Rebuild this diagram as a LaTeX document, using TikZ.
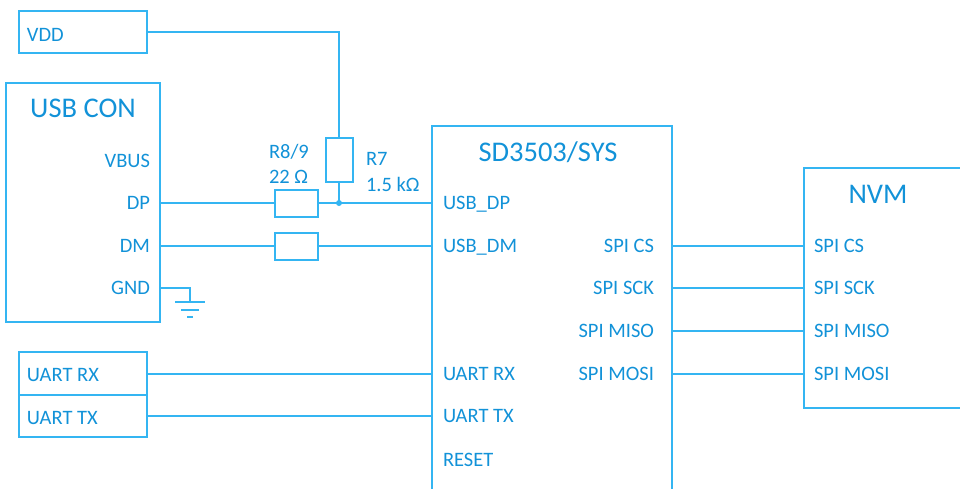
\documentclass[tikz,border=0pt]{standalone}
\usepackage{fontspec}
\setmainfont{Carlito}
\usepackage{tikz}
\usetikzlibrary{positioning}
\definecolor{wire}{RGB}{52,181,242}
\definecolor{lbl}{RGB}{18,146,216}
\newcommand{\pinsize}{\fontsize{20.5}{24}\selectfont}
\newcommand{\titlesize}{\fontsize{28.5}{32}\selectfont}

\begin{document}
\begin{tikzpicture}[x=1pt, y=-1pt, line width=2pt, draw=wire,
    box/.style={draw=wire, rectangle, inner sep=0pt},
    res/.style={draw=wire, rectangle, inner sep=0pt, minimum width=43pt, minimum height=27pt},
    pin/.style={inner sep=0pt, text=lbl, font=\pinsize, text height=13.2pt, text depth=0pt},
    title/.style={inner sep=0pt, text=lbl, font=\titlesize, text height=18.4pt, text depth=0pt}]
    \clip (0,0) rectangle (960,488);
    % blocks
    \node[box, minimum width=128pt, minimum height=42pt] (vdd) at (83,32) {};
    \node[box, minimum width=154pt, minimum height=239pt] (usb) at (83,202.5) {};
    \node[box, minimum width=240pt, minimum height=388pt] (sys) at (552,320) {};
    \node[box, minimum width=171pt, minimum height=240pt] (nvm) at (889.5,288) {};
    \node[box, minimum width=128pt, minimum height=43pt] (rx) at (83,373.5) {};
    \node[box, minimum width=128pt, minimum height=42pt] (tx) at (83,416) {};
    \node[title] (usb-t) at (83,108) {USB CON};
    \node[title] (sys-t) at (548,152) {SD3503/SYS};
    \node[title] (nvm-t) at (878,194) {NVM};
    % labels inside blocks
    \node[pin, anchor=west] (vdd-l) at (26,35) {VDD};
    \node[pin, anchor=west] (rx-l) at (26,375) {UART RX};
    \node[pin, anchor=west] (tx-l) at (26,418) {UART TX};
    \node[pin, anchor=east] (con-vbus) at (151,161) {VBUS};
    \node[pin, anchor=east] (con-dp) at (151,203) {DP};
    \node[pin, anchor=east] (con-dm) at (151,246) {DM};
    \node[pin, anchor=east] (con-gnd) at (151,288) {GND};
    \node[pin, anchor=west] (sys-dp) at (442,203) {USB\_DP};
    \node[pin, anchor=west] (sys-dm) at (442,246) {USB\_DM};
    \node[pin, anchor=west] (sys-rx) at (442,374) {UART RX};
    \node[pin, anchor=west] (sys-tx) at (442,416) {UART TX};
    \node[pin, anchor=west] (sys-rst) at (442,460) {RESET};
    \node[pin, anchor=east] (sys-cs) at (655,246) {SPI CS};
    \node[pin, anchor=east] (sys-sck) at (655,288) {SPI SCK};
    \node[pin, anchor=east] (sys-miso) at (655,331) {SPI MISO};
    \node[pin, anchor=east] (sys-mosi) at (655,374) {SPI MOSI};
    \node[pin, anchor=west] (nvm-cs) at (813,246) {SPI CS};
    \node[pin, anchor=west] (nvm-sck) at (813,288) {SPI SCK};
    \node[pin, anchor=west] (nvm-miso) at (813,331) {SPI MISO};
    \node[pin, anchor=west] (nvm-mosi) at (813,374) {SPI MOSI};
    % resistors
    \node[res] (r8) at (296.5,203) {};
    \node[res] (r9) at (296.5,246) {};
    \node[res, minimum width=27pt, minimum height=44pt] (r7) at (339,160) {};
    \node[pin, anchor=west] (r8-n) at (268,151.5) {R8/9};
    \node[pin, anchor=west] (r8-v) at (268,176.5) {22 Ω};
    \node[pin, anchor=west] (r7-n) at (365,159) {R7};
    \node[pin, anchor=west] (r7-v) at (365,184.5) {1.5 kΩ};
    \coordinate (jdp) at (r7.south |- r8);
    \coordinate (gnd) at (190,302);
    % wires
    \draw (vdd.east) -| (r7.north);
    \draw (r7.south) -- (jdp);
    \fill[wire] (jdp) circle (3pt);
    \draw (usb.east |- con-dp) -- (r8.west);
    \draw (r8.east) -- (sys.west |- sys-dp);
    \draw (usb.east |- con-dm) -- (r9.west);
    \draw (r9.east) -- (sys.west |- sys-dm);
    \draw (usb.east |- con-gnd) -| (gnd);
    \draw ([xshift=-15pt]gnd) -- ([xshift=15pt]gnd);
    \draw ([xshift=-9pt, yshift=-7.5pt]gnd) -- ([xshift=9pt, yshift=-7.5pt]gnd);
    \draw ([xshift=-3pt, yshift=-15pt]gnd) -- ([xshift=3pt, yshift=-15pt]gnd);
    \draw (rx.east |- sys-rx) -- (sys.west |- sys-rx);
    \draw (tx.east |- sys-tx) -- (sys.west |- sys-tx);
    \draw (sys.east |- sys-cs) -- (nvm.west |- nvm-cs);
    \draw (sys.east |- sys-sck) -- (nvm.west |- nvm-sck);
    \draw (sys.east |- sys-miso) -- (nvm.west |- nvm-miso);
    \draw (sys.east |- sys-mosi) -- (nvm.west |- nvm-mosi);
\end{tikzpicture}
\end{document}
